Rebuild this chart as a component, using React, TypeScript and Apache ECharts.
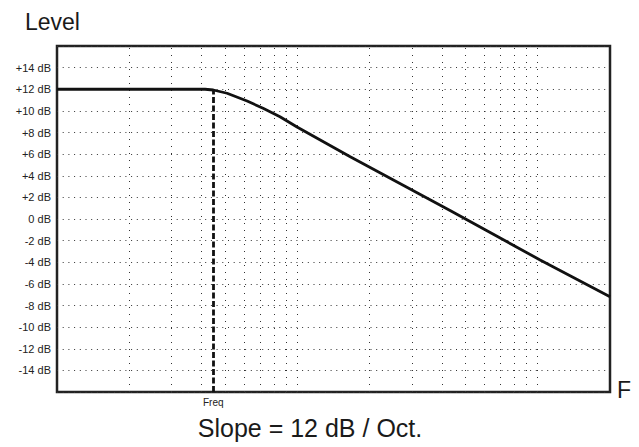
import React, { useEffect, useRef } from "react";
import * as echarts from "echarts";

// Frequency positions (log axis, relative units) and level (dB)
const curveFreq = [1, 3.25, 4.13, 4.47, 5.1, 6.18, 7.2, 8.47, 9.97, 16.6, 43.2, 102.4, 200];
const curveLevel = [12, 12, 12, 11.93, 11.63, 10.91, 10.24, 9.46, 8.51, 5.76, 0.79, -3.79, -7.19];

// Vertical (log) grid lines
const gridFreqs = [2, 3, 4, 5, 6, 7, 8, 9, 10, 20, 30, 40, 50, 60, 70, 80, 90, 100];

// Cut-off marker
const markerFreq = 4.47;
const markerLevel = 11.93;
const markerLabel = "Freq";

const yMin = -16;
const yMax = 16;
const yStep = 2;

const titleText = "Level";
const axisNameX = "F";
const footerText = "Slope = 12 dB / Oct.";

const FONT = "'Liberation Sans', Arial, Helvetica, sans-serif";

export default function App() {
  const ref = useRef<HTMLDivElement>(null);
  useEffect(() => {
    if (!ref.current) return;
    const chart = echarts.init(ref.current, undefined, { renderer: "svg" });
    const curve = curveFreq.map((f, i) => [f, curveLevel[i]]);
    chart.setOption({
      animation: false,
      backgroundColor: "#ffffff",
      grid: {
        left: 57,
        right: 29,
        top: 46,
        bottom: 55,
        show: true,
        borderColor: "#222",
        borderWidth: 2.5,
        backgroundColor: "transparent",
      },
      xAxis: {
        type: "log",
        logBase: 10,
        min: 1,
        max: 200,
        axisLine: { show: false },
        axisTick: { show: false },
        axisLabel: { show: false },
        splitLine: { show: false },
      },
      yAxis: {
        type: "value",
        min: yMin,
        max: yMax,
        interval: yStep,
        axisLine: { show: false },
        axisTick: { show: false },
        axisLabel: {
          margin: 6,
          fontSize: 11,
          fontFamily: FONT,
          color: "#222",
          formatter: (v: number) =>
            v === yMin || v === yMax ? "" : v > 0 ? `+${v} dB` : `${v} dB`,
        },
        splitLine: {
          show: true,
          lineStyle: { color: "#333", width: 1, type: [1, 4.7] },
        },
      },
      series: [
        {
          type: "line",
          data: [[1, 12]],
          symbol: "none",
          lineStyle: { width: 0, opacity: 0 },
          silent: true,
          z: 1,
          markLine: {
            silent: true,
            symbol: "none",
            label: { show: false },
            lineStyle: { color: "#333", width: 1, type: [1, 6] },
            data: gridFreqs.map((f) => ({ xAxis: f })),
          },
        },
        {
          type: "line",
          data: curve,
          symbol: "none",
          smooth: false,
          lineStyle: { color: "#111", width: 2.8 },
          z: 5,
          markLine: {
            silent: true,
            symbol: "none",
            lineStyle: { color: "#111", width: 2.8, type: [6, 2.5] },
            label: {
              show: true,
              position: "start",
              distance: 5,
              formatter: markerLabel,
              fontSize: 10,
              fontFamily: FONT,
              color: "#222",
            },
            data: [
              [
                { coord: [markerFreq, yMin] },
                { coord: [markerFreq, markerLevel] },
              ],
            ],
          },
        },
      ],
      graphic: [
        {
          type: "text",
          x: 25,
          y: 22,
          style: {
            text: titleText,
            fontSize: 23,
            fontFamily: FONT,
            fill: "#1a1a1a",
            verticalAlign: "middle",
            align: "left",
          },
        },
        {
          type: "text",
          x: 617,
          y: 390,
          style: {
            text: axisNameX,
            fontSize: 23,
            fontFamily: FONT,
            fill: "#1a1a1a",
            verticalAlign: "middle",
            align: "left",
          },
        },
        {
          type: "text",
          x: 310,
          y: 428,
          style: {
            text: footerText,
            fontSize: 25,
            fontFamily: FONT,
            fill: "#1a1a1a",
            verticalAlign: "middle",
            align: "center",
          },
        },
      ],
    });
    return () => chart.dispose();
  }, []);
  return (
    <div
      ref={ref}
      style={{ position: "fixed", left: 0, top: 0, width: 639, height: 447 }}
    />
  );
}
